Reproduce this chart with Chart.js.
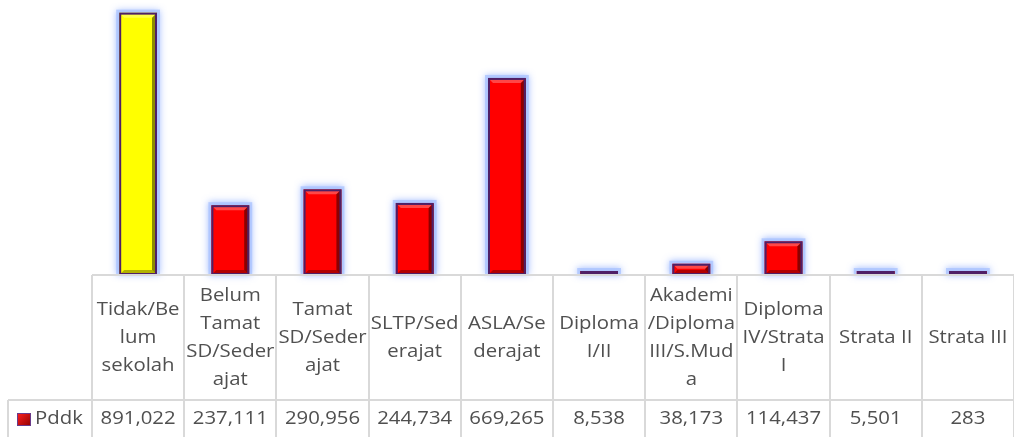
<!DOCTYPE html>
<html>
<head>
<meta charset="utf-8">
<script src="https://cdn.jsdelivr.net/npm/chart.js@4/dist/chart.umd.min.js"></script>
<style>
  html, body { margin: 0; padding: 0; background: #fff; }
  #wrap { width: 1014px; height: 437px; }
</style>
</head>
<body>
<div id="wrap"><canvas id="c"></canvas></div>
<script>
// category labels, broken the way the table cells show them
const categories = [
  ['Tidak/Be', 'lum', 'sekolah'],
  ['Belum', 'Tamat', 'SD/Seder', 'ajat'],
  ['Tamat', 'SD/Seder', 'ajat'],
  ['SLTP/Sed', 'erajat'],
  ['ASLA/Se', 'derajat'],
  ['Diploma', 'I/II'],
  ['Akademi', '/Diploma', 'III/S.Mud', 'a'],
  ['Diploma', 'IV/Strata', 'I'],
  ['Strata II'],
  ['Strata III']
];
const seriesName = 'Pddk';
const pddk = [891022, 237111, 290956, 244734, 669265, 8538, 38173, 114437, 5501, 283];
const barColors = ['#ffff00', '#ff0000', '#ff0000', '#ff0000', '#ff0000', '#ff0000', '#ff0000', '#ff0000', '#ff0000', '#ff0000'];

const FONT = '18.5px "Open Sans"';
const TEXT = '#505050';
const GRID = '#d9d9d9';
const STRETCH = 1.1;

function stretchedText(ctx, str, x, y) {
  ctx.save();
  ctx.translate(x, y);
  ctx.scale(STRETCH, 1);
  ctx.fillText(str, 0, 0);
  ctx.restore();
}

function barBox(bar) {
  const { x, y, base, width } = bar.getProps(['x', 'y', 'base', 'width'], true);
  return { l: x - width / 2, r: x + width / 2, t: Math.min(y, base), b: Math.max(y, base) };
}

// light blue glow round the bars, then bevel shading on top
const bevel = {
  id: 'bevel',
  beforeDatasetsDraw(chart) {
    const ctx = chart.ctx;
    ctx.save();
    chart.getDatasetMeta(0).data.forEach((bar) => {
      const { l, r, t, b } = barBox(bar);
      ctx.shadowColor = 'rgba(110,150,255,0.9)';
      ctx.shadowBlur = 7;
      ctx.fillStyle = 'rgba(170,195,255,0.75)';
      ctx.fillRect(l - 3, t - 3, r - l + 6, b - t + 3);
    });
    ctx.restore();
  },
  afterDatasetsDraw(chart) {
    const ctx = chart.ctx;
    chart.getDatasetMeta(0).data.forEach((bar) => {
      const { l, r, t, b } = barBox(bar);
      const h = b - t;
      const bev = Math.min(5, h / 2);
      ctx.save();
      ctx.fillStyle = 'rgba(0,0,0,0.45)';
      ctx.beginPath();
      ctx.moveTo(r, t); ctx.lineTo(r, b); ctx.lineTo(r - bev, b - bev); ctx.lineTo(r - bev, t + bev); ctx.closePath();
      ctx.fill();
      ctx.fillStyle = 'rgba(255,255,255,0.28)';
      ctx.beginPath();
      ctx.moveTo(l, t); ctx.lineTo(r, t); ctx.lineTo(r - bev, t + bev); ctx.lineTo(l + bev, t + bev); ctx.closePath();
      ctx.fill();
      ctx.fillStyle = 'rgba(0,0,0,0.3)';
      ctx.beginPath();
      ctx.moveTo(l, b); ctx.lineTo(r, b); ctx.lineTo(r - bev, b - bev); ctx.lineTo(l + bev, b - bev); ctx.closePath();
      ctx.fill();
      ctx.strokeStyle = '#4f1f66';
      ctx.lineWidth = 2;
      ctx.strokeRect(l + 1, t + 1, r - l - 2, Math.max(h - 2, 0.5));
      ctx.restore();
    });
  }
};

// data table under the plot
const dataTable = {
  id: 'dataTable',
  afterDraw(chart) {
    const ctx = chart.ctx;
    const xs = chart.scales.x;
    const area = chart.chartArea;
    const n = categories.length;
    const cw = (area.right - area.left) / n;
    const top = area.bottom;
    const rowY = top + 125;
    const bottom = chart.height + 5;

    ctx.save();
    ctx.strokeStyle = GRID;
    ctx.lineWidth = 2;
    ctx.beginPath();
    ctx.moveTo(area.left, top); ctx.lineTo(area.right, top);
    ctx.moveTo(8, rowY); ctx.lineTo(area.right, rowY);
    for (let i = 0; i <= n; i++) {
      const lx = Math.round(area.left + i * cw);
      ctx.moveTo(lx, top); ctx.lineTo(lx, bottom);
    }
    ctx.moveTo(8, rowY); ctx.lineTo(8, bottom);
    ctx.stroke();

    ctx.fillStyle = TEXT;
    ctx.font = FONT;
    ctx.textBaseline = 'middle';
    ctx.textAlign = 'center';
    const lh = 28;
    categories.forEach((lines, i) => {
      const cx = xs.getPixelForValue(i);
      const mid = (top + rowY) / 2;
      const start = mid - (lines.length - 1) * lh / 2;
      lines.forEach((s, k) => stretchedText(ctx, s, cx, start + k * lh));
      stretchedText(ctx, pddk[i].toLocaleString('en-US'), cx, rowY + 19);
    });

    // legend key + series name
    const g = ctx.createLinearGradient(17, 413, 31, 426);
    g.addColorStop(0, '#ff2020');
    g.addColorStop(1, '#900000');
    ctx.fillStyle = g;
    ctx.fillRect(17, 413, 14, 13);
    ctx.strokeStyle = '#6a3a8a';
    ctx.lineWidth = 1;
    ctx.strokeRect(17.5, 413.5, 13, 12);
    ctx.fillStyle = TEXT;
    ctx.textAlign = 'left';
    stretchedText(ctx, seriesName, 35, rowY + 19);
    ctx.restore();
  }
};

new Chart(document.getElementById('c'), {
  type: 'bar',
  data: {
    labels: categories,
    datasets: [{
      label: seriesName,
      data: pddk,
      backgroundColor: barColors,
      borderWidth: 0,
      categoryPercentage: 1,
      barPercentage: 0.41,
      minBarLength: 4,
      clip: false
    }]
  },
  options: {
    responsive: true,
    maintainAspectRatio: false,
    animation: false,
    events: [],
    layout: { padding: { left: 92, right: 0, top: 10, bottom: 162 } },
    plugins: { legend: { display: false }, tooltip: { enabled: false } },
    scales: {
      x: { display: false },
      y: { display: false, min: 0, max: 900000 }
    }
  },
  plugins: [bevel, dataTable]
});
</script>
</body>
</html>
